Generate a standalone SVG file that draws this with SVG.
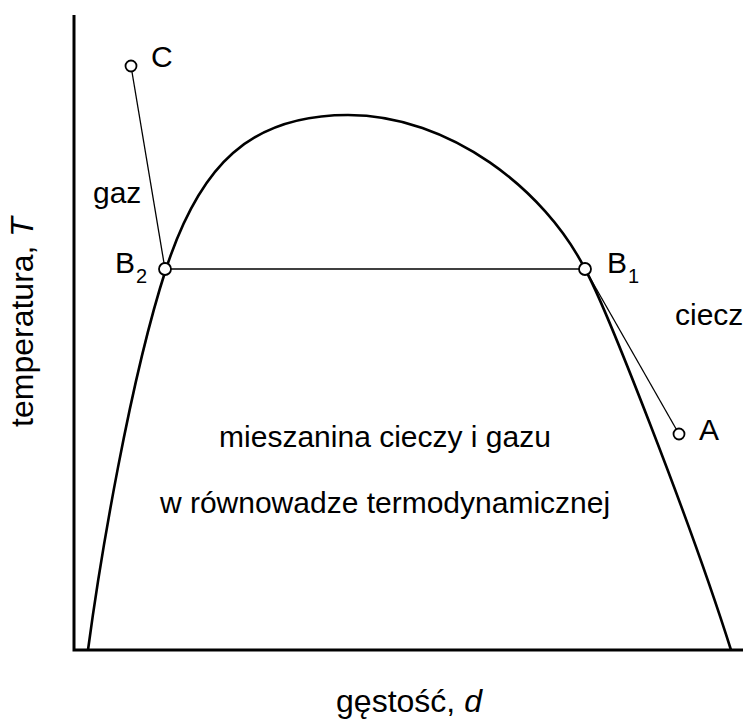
<svg xmlns="http://www.w3.org/2000/svg" width="743" height="719" viewBox="0 0 743 719">
<style>
text{font-family:"Liberation Sans",Arial,sans-serif;fill:#000}
.lbl{font-size:30px}
.sub{font-size:20px}
.ax{font-size:32px}
.thin{stroke:#000;stroke-width:1.3;fill:none}
.pt{fill:#fff;stroke:#000;stroke-width:1.8}
</style>
<rect width="743" height="719" fill="#fff"/>
<g id="axes" stroke="#000" stroke-width="3" fill="none">
<path d="M74,15 V650 H743"/>
</g>
<g id="curve">
<path d="M88,650 C100,560 130,380 166,269 C200,165 250,115 348,115 C450,115 545,190 585,269 C605,305 690,520 731,650" fill="none" stroke="#000" stroke-width="2.6"/>
</g>
<g id="connectors">
<line class="thin" x1="131" y1="66" x2="165" y2="269"/>
<line class="thin" x1="165" y1="269" x2="585" y2="269"/>
<line class="thin" x1="585" y1="269" x2="679" y2="434"/>
</g>
<g id="C"><circle class="pt" cx="131" cy="66" r="5.5"/><text class="lbl" x="151" y="67">C</text></g>
<g id="B2"><circle class="pt" cx="165" cy="269" r="6"/><text class="lbl" x="115" y="273">B</text><text class="sub" x="136" y="283">2</text></g>
<g id="B1"><circle class="pt" cx="585" cy="269" r="6"/><text class="lbl" x="607" y="273">B</text><text class="sub" x="628" y="283">1</text></g>
<g id="A"><circle class="pt" cx="679" cy="434" r="5.5"/><text class="lbl" x="699" y="440">A</text></g>
<g id="labels">
<text class="lbl" x="93" y="203">gaz</text>
<text class="lbl" x="675" y="325">ciecz</text>
<text class="lbl" x="385" y="447" text-anchor="middle">mieszanina cieczy i gazu</text>
<text class="lbl" x="385" y="513" text-anchor="middle">w równowadze termodynamicznej</text>
<text class="ax" x="409" y="712" text-anchor="middle">gęstość, <tspan font-style="italic">d</tspan></text>
<text class="ax" transform="translate(33,322) rotate(-90)" text-anchor="middle">temperatura, <tspan font-style="italic">T</tspan></text>
</g>
</svg>
